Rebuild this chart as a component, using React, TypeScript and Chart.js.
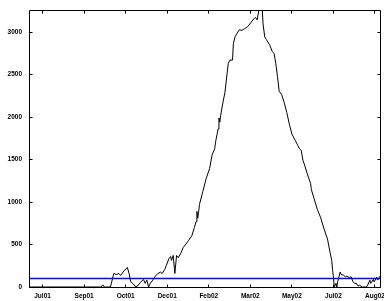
import React, { useEffect, useRef } from "react";
import { Chart, registerables } from "chart.js";

Chart.register(...registerables);

// Day index (days since 1 Jul 2001) of each sample
const days = [
  8, 91, 93, 95, 97, 104, 108, 111, 114, 116, 120, 124, 126, 128, 131, 134, 136, 139, 143, 145,
  147, 149, 151, 154, 157, 160, 163, 165, 168, 170, 173, 175, 176, 178, 180, 182, 184, 187, 190, 193,
  196, 200, 203, 205, 206, 207, 208, 209, 213, 217, 221, 224, 227, 228, 231, 232, 233, 234, 237, 239,
  241, 243, 245, 248, 249, 251, 253, 256, 259, 262, 264, 266, 270, 273, 275, 277, 279, 281, 283, 284,
  286, 288, 292, 295, 297, 299, 301, 303, 306, 309, 312, 315, 318, 322, 325, 327, 329, 331, 333, 336,
  340, 341, 344, 348, 352, 356, 360, 363, 365, 366, 367, 368, 370, 371, 372, 375, 376, 379, 381, 382,
  384, 386, 388, 390, 392, 394, 396, 398, 401, 405, 407, 410, 411, 414, 415, 418, 419, 422, 423,
];

// Series values
const counts = [
  0, 0, 0, 25, 0, 0, 159, 147, 159, 136, 189, 229, 159, 61, 35, 0, 12, 50, 89, 43,
  81, 0, 43, 81, 128, 159, 174, 159, 205, 255, 333, 360, 313, 371, 159, 371, 345, 398, 467, 505,
  545, 603, 699, 770, 890, 810, 880, 971, 1125, 1279, 1395, 1558, 1627, 1705, 1860, 1990, 1940, 2020, 2189, 2285,
  2460, 2633, 2671, 2671, 2865, 2946, 2981, 3028, 3020, 3039, 3051, 3066, 3117, 3155, 3175, 3144, 3251, 3310, 3280, 3097,
  2943, 2912, 2845, 2769, 2749, 2633, 2479, 2305, 2265, 2169, 2053, 1917, 1801, 1725, 1667, 1627, 1609, 1493, 1435, 1337,
  1221, 1145, 1047, 913, 815, 681, 565, 409, 313, 197, 119, 0, 43, 0, 61, 177, 147, 139, 119, 128,
  119, 113, 119, 61, 43, 43, 12, 20, 0, 0, 12, 81, 43, 89, 61, 113, 81, 128, 125,
];

const thresholdDays = [8, 423];
const thresholdValue = 100;

const tickDays = [24, 73, 122, 171, 220, 269, 318, 367, 416];
const tickLabels = ["Jul01", "Sep01", "Oct01", "Dec01", "Feb02", "Mar02", "May02", "Jul02", "Aug02"];
const yTicks = [0, 500, 1000, 1500, 2000, 2500, 3000];

const xMin = 8;
const xMax = 423;
const yMin = 0;
const yMax = 3250;

const framePlugin = {
  id: "frame",
  afterDatasetsDraw(chart: any) {
    const { ctx, chartArea: a, scales } = chart;
    const L = Math.floor(a.left) + 0.5;
    const R = Math.floor(a.right) + 0.5;
    const T = Math.floor(a.top) + 0.5;
    const B = Math.floor(a.bottom) + 0.5;
    const len = 3;
    ctx.save();
    ctx.strokeStyle = "#000";
    ctx.lineWidth = 1;
    ctx.beginPath();
    ctx.rect(L, T, R - L, B - T);
    tickDays.forEach((d) => {
      const px = Math.floor(scales.x.getPixelForValue(d)) + 0.5;
      ctx.moveTo(px, B);
      ctx.lineTo(px, B - len);
      ctx.moveTo(px, T);
      ctx.lineTo(px, T + len);
    });
    yTicks.forEach((v) => {
      const py = Math.floor(scales.y.getPixelForValue(v)) + 0.5;
      ctx.moveTo(L, py);
      ctx.lineTo(L + len, py);
      ctx.moveTo(R, py);
      ctx.lineTo(R - len, py);
    });
    ctx.stroke();
    ctx.restore();
  },
};

export default function App() {
  const ref = useRef<HTMLCanvasElement>(null);

  useEffect(() => {
    if (!ref.current) return;
    const font = { family: "'Liberation Sans', Arial, sans-serif", size: 6.5, weight: "bold" as const };
    const chart = new Chart(ref.current, {
      type: "line",
      data: {
        datasets: [
          {
            data: thresholdDays.map((d) => ({ x: d, y: thresholdValue })),
            borderColor: "#0000ff",
            borderWidth: 1.6,
            pointRadius: 0,
            tension: 0,
          },
          {
            data: days.map((d, i) => ({ x: d, y: counts[i] })),
            borderColor: "#000000",
            borderWidth: 1,
            pointRadius: 0,
            tension: 0,
          },
        ],
      },
      options: {
        animation: false,
        responsive: false,
        devicePixelRatio: 1,
        layout: { padding: { top: 6.5, right: 5, bottom: 0, left: 0 } },
        plugins: { legend: { display: false }, tooltip: { enabled: false } },
        scales: {
          x: {
            type: "linear",
            min: xMin,
            max: xMax,
            grid: { display: false, drawTicks: false },
            border: { display: false },
            afterBuildTicks: (s: any) => {
              s.ticks = tickDays.map((v) => ({ value: v }));
            },
            afterFit: (s: any) => {
              s.height = 14;
            },
            ticks: {
              autoSkip: false,
              maxRotation: 0,
              padding: 5,
              color: "#000",
              font,
              callback: (_v: any, i: number) => tickLabels[i],
            },
          },
          y: {
            type: "linear",
            min: yMin,
            max: yMax,
            grid: { display: false, drawTicks: false },
            border: { display: false },
            afterBuildTicks: (s: any) => {
              s.ticks = yTicks.map((v) => ({ value: v }));
            },
            afterFit: (s: any) => {
              s.width = 29;
            },
            ticks: {
              autoSkip: false,
              padding: 7,
              color: "#000",
              font,
              callback: (v: any) => String(v),
            },
          },
        },
      },
      plugins: [framePlugin],
    });
    return () => chart.destroy();
  }, []);

  return (
    <div
      style={{
        position: "absolute",
        left: 0,
        top: 0,
        width: 384,
        height: 301,
        overflow: "hidden",
        background: "#fff",
      }}
    >
      <canvas ref={ref} width={390} height={301} style={{ display: "block", width: 390, height: 301 }} />
    </div>
  );
}
